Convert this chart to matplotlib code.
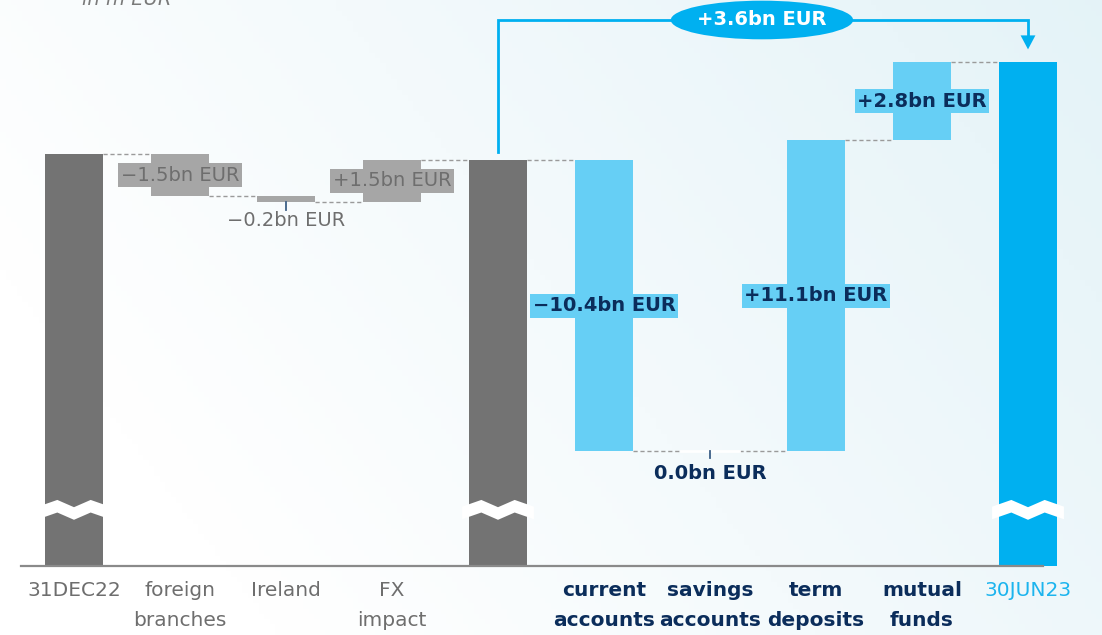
import numpy as np
import matplotlib.pyplot as plt
from matplotlib.patches import Ellipse, Polygon

# data (bn EUR, height above the broken axis)
categories = ['31DEC22', 'foreign\nbranches', 'Ireland', 'FX\nimpact', '',
              'current\naccounts', 'savings\naccounts', 'term\ndeposits',
              'mutual\nfunds', '30JUN23']
start_value = 14.7
changes = [-1.5, -0.2, 1.5, None, -10.4, 0.0, 11.1, 2.8, None]   # None = subtotal / total
change_labels = ['\u22121.5bn EUR', '\u22120.2bn EUR', '+1.5bn EUR', '',
                 '\u221210.4bn EUR', '0.0bn EUR', '+11.1bn EUR', '+2.8bn EUR', '']
total_label = '+3.6bn EUR'

gray_dark = '#737373'
gray_light = '#a6a6a6'
gray_text = '#6e6e6e'
blue_light = '#66cff5'
blue = '#00b0f0'
navy = '#0b2d5b'

# build waterfall
bottoms, heights = [0], [start_value]
level = start_value
levels = [level]
for c in changes:
    if c is None:
        bottoms.append(0)
        heights.append(level)
    else:
        bottoms.append(min(level, level + c))
        heights.append(abs(c))
        level = level + c
    levels.append(level)

n = len(categories)
x = np.arange(n)
w = 0.55

fig = plt.figure(figsize=(11.02, 6.35), dpi=100)
ax = fig.add_axes([0, 0, 1, 1])
ax.set_xlim(-0.698, 9.698)
ax.set_ylim(-2.464, 20.214)
ax.axis('off')

# soft background gradient
gx, gy = np.meshgrid(np.linspace(0, 1, 200), np.linspace(0, 1, 120))
t = np.clip(0.8 * gx + 0.35 * (1 - gy) - 0.2, 0, 1)
c0 = np.array([1.0, 1.0, 1.0])
c1 = np.array([0.89, 0.95, 0.97])
img = c0 + (c1 - c0) * t[..., None]
ax.imshow(img, extent=[-0.698, 9.698, -2.464, 20.214], aspect='auto', zorder=0, origin='upper')

# bar colours
colors = []
for i in range(n):
    if i in (0, 4):
        colors.append(gray_dark)
    elif i == n - 1:
        colors.append(blue)
    elif i < 4:
        colors.append(gray_light)
    else:
        colors.append(blue_light)

for i in range(n):
    if heights[i] > 0:
        ax.bar(x[i], heights[i], bottom=bottoms[i], width=w, color=colors[i], zorder=2)

# savings: zero bar
ax.plot([x[6] - w / 2, x[6] + w / 2], [levels[6], levels[6]], color='white', lw=2, zorder=2)

# connectors
for i in range(n - 1):
    lv = levels[i]
    ax.plot([x[i] + w / 2, x[i + 1] - w / 2], [lv, lv], color='#9a9a9a', lw=1,
            ls=(0, (3, 2)), zorder=1)

# tiny-bar ticks
ax.plot([x[2], x[2]], [levels[2], levels[2] - 0.3], color='#3d5f86', lw=1.3, zorder=3)
ax.plot([x[6], x[6]], [levels[6], levels[6] - 0.25], color='#3d5f86', lw=1.3, zorder=3)

# axis break squiggles
sq_x = np.array([-0.56, -0.26, 0.0, 0.26, 0.56])
sq_top = np.array([2.12, 2.36, 2.10, 2.36, 2.12])
for i in (0, 4, 9):
    xs = x[i] + sq_x * w * 1.1
    bot = sq_top - 0.45
    pts = np.column_stack([np.concatenate([xs, xs[::-1]]), np.concatenate([sq_top, bot[::-1]])])
    ax.add_patch(Polygon(pts, closed=True, facecolor='white', edgecolor='none', zorder=3))

# baseline
ax.plot([-0.5, 9.14], [0, 0], color='#8a8a8a', lw=1.6, zorder=3)

# change labels
for i in range(1, n):
    lab = change_labels[i - 1]
    if not lab:
        continue
    mid = bottoms[i] + heights[i] / 2
    if i < 4:
        tc, bc, fw = gray_text, gray_light, 'normal'
    else:
        tc, bc, fw = navy, blue_light, 'semibold'
    if heights[i] < 0.5:
        ax.text(x[i], levels[i] - 0.65 if i == 2 else levels[i] - 0.8, lab, ha='center', va='center',
                fontsize=14, color=tc, fontweight=fw, zorder=4)
    else:
        ax.text(x[i], mid, lab, ha='center', va='center', fontsize=14, color=tc, fontweight=fw,
                zorder=4, bbox=dict(boxstyle='square,pad=0.13', facecolor=bc, edgecolor='none'))

# category labels
for i in range(n):
    if i < 4:
        tc, fw = gray_text, 'normal'
    elif i == n - 1:
        tc, fw = '#1cb4ee', 'normal'
    else:
        tc, fw = navy, 'semibold'
    for j, line in enumerate(categories[i].split('\n')):
        ax.text(x[i], -0.89 - 1.04 * j, line, ha='center', va='center', fontsize=14.5,
                color=tc, fontweight=fw, zorder=4)

# total change arrow
y_arrow = 19.5
ax.plot([x[4], x[4], x[9], x[9]], [levels[4] + 0.3, y_arrow, y_arrow, 18.9],
        color=blue, lw=2, zorder=4, solid_joinstyle='miter')
ax.add_patch(Polygon([[x[9] - 0.07, 18.95], [x[9] + 0.07, 18.95], [x[9], 18.45]],
                     closed=True, facecolor=blue, edgecolor='none', zorder=4))
ax.add_patch(Ellipse((6.49, y_arrow), 1.72, 1.38, facecolor=blue, edgecolor='none', zorder=5))
ax.text(6.49, y_arrow, total_label, ha='center', va='center', fontsize=14, color='white',
        fontweight='semibold', zorder=6)

# unit caption (cut off at the top)
ax.text(0.5, 20.04, 'in m EUR', ha='center', va='baseline', fontsize=14, color='#7a7a7a',
        style='italic', zorder=4)

fig.savefig('out.png', dpi=100)
